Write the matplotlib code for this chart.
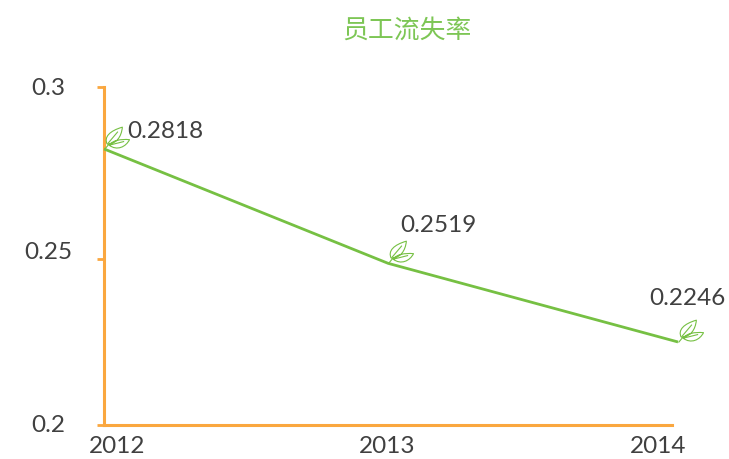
import matplotlib
matplotlib.use("Agg")
import matplotlib.pyplot as plt
from matplotlib.path import Path
from matplotlib.transforms import Affine2D

years = ["2012", "2013", "2014"]
line_values = [0.2818, 0.2479, 0.2246]
value_labels = ["0.2818", "0.2519", "0.2246"]
y_ticks = [0.2, 0.2491, 0.3]
y_tick_labels = ["0.2", "0.25", "0.3"]
title = "员工流失率"

GREEN = "#76C043"
ORANGE = "#FAA73F"
INK = "#404040"
FONT = ["Lato", "DejaVu Sans"]
plt.rcParams["font.family"] = FONT

# Leaf sprig as a custom marker, origin at the stem foot, y up.
leaf_codes = [Path.MOVETO, Path.CURVE4, Path.CURVE4, Path.CURVE4,
              Path.CURVE4, Path.CURVE4, Path.CURVE4]
upper = [(3, 6), (-1, 14), (6, 21), (20, 25), (19, 14), (13, 6), (3, 6)]
lower = [(5, 5), (9, 10), (18, 12), (28, 11), (24, 3), (14, -2), (5, 5)]
stem = [(0, 0), (5, 6)]
vein1 = [(4, 7), (15, 20)]
vein2 = [(6, 5), (22, 9)]
verts = upper + lower + stem + vein1 + vein2
codes = leaf_codes + leaf_codes + [Path.MOVETO, Path.LINETO] * 3
LEAF = Path(verts, codes)

fig = plt.figure(figsize=(7.29, 4.59), dpi=100)
W, H = 729, 459
left, right, top, bottom = 104, 678, 87.5, 425
ax = fig.add_axes([left / W, 1 - bottom / H, (right - left) / W, (bottom - top) / H])
ax.set_xlim(0, 2)
ax.set_ylim(0.2, 0.3)
xs = [0, 0.99, 2]
tick_xs = [0, 1, 2]

ax.plot(xs, line_values, color=GREEN, lw=2.0, solid_capstyle="butt", zorder=3, clip_on=False)
ax.plot(xs, line_values, ls="none", marker=LEAF, ms=36, mfc="none", mec=GREEN, mew=0.8,
        zorder=4, clip_on=False)

offsets = [(23, 7), (12, 27), (-29, 33)]
for x, y, lab, off in zip(xs, line_values, value_labels, offsets):
    ax.annotate(lab, (x, y), xytext=off, textcoords="offset pixels", fontsize=17.5,
                color=INK, ha="left", va="bottom", annotation_clip=False)

for s in ("top", "right"):
    ax.spines[s].set_visible(False)
for s in ("left", "bottom"):
    ax.spines[s].set_color(ORANGE)
    ax.spines[s].set_linewidth(2.2)
ax.spines["bottom"].set_bounds(0, 1.98)

ax.set_yticks(y_ticks)
ax.set_yticklabels(y_tick_labels, fontsize=17.5, color=INK, ha="center")
ax.tick_params(axis="y", length=5, width=2, color=ORANGE, pad=35)
for lab, dy in zip(ax.get_yticklabels(), (2, 9, 1)):
    lab.set_transform(lab.get_transform() + Affine2D().translate(0, dy))

ax.set_xticks(tick_xs)
ax.set_xticklabels(years, fontsize=17.5, color=INK)
ax.tick_params(axis="x", length=0, pad=8)
for lab, dx in zip(ax.get_xticklabels(), (13, -4, -20)):
    lab.set_transform(lab.get_transform() + Affine2D().translate(dx, 0))

fig.text(407 / W, 1 - 30 / H, title, color="#7DC655", fontsize=18.6, ha="center", va="center",
         family=["Noto Sans CJK SC", "DejaVu Sans"])
fig.savefig("out.png", dpi=100)
